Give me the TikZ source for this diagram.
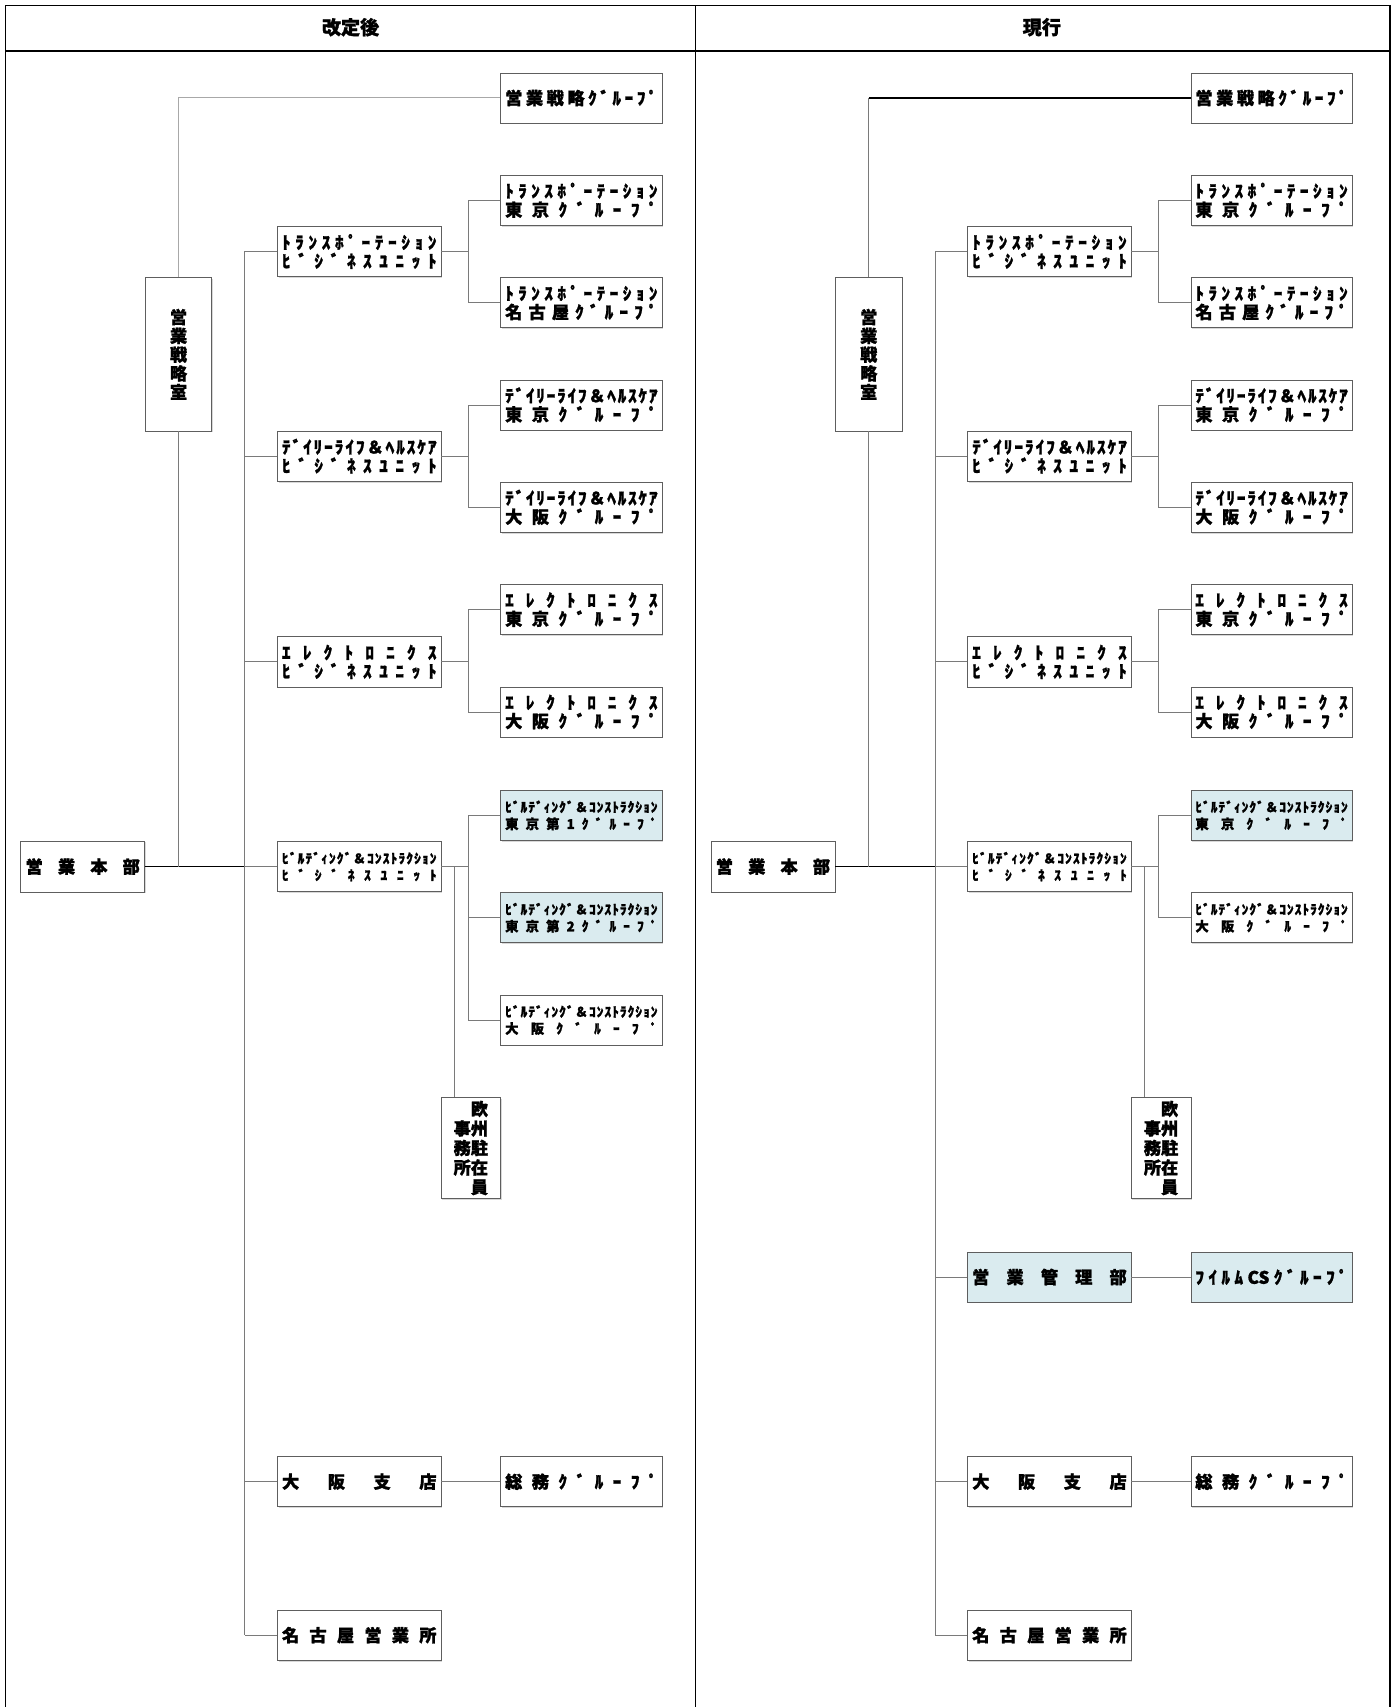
\documentclass[tikz,border=0pt]{standalone}
\usepackage{fontspec}
\setmainfont{Noto Sans CJK JP}[BoldFeatures={FakeBold=1.3}]
\usetikzlibrary{shadows}
\definecolor{edge}{HTML}{5E5E5E}
\definecolor{wire}{HTML}{7A7A7A}
\definecolor{faint}{HTML}{A8A8A8}
\definecolor{pale}{HTML}{DAEBEF}

% spread the letters of one line over the whole text width
\makeatletter
\def\spr#1{\hbox to\linewidth{\spr@a#1\@nil}\par}
\def\spr@a#1#2\@nil{#1\if\relax\detokenize{#2}\relax\else\hfill\spr@a#2\@nil\fi}
\makeatother

\begin{document}
\begin{tikzpicture}[x=0.02cm,y=-0.02cm,
  font=\bfseries\fontsize{9}{9.8}\selectfont,
  box/.style={draw=edge,fill=white,inner xsep=0.08cm,inner ysep=0pt,
    minimum height=0.92cm,
    drop shadow={shadow xshift=0.7pt,shadow yshift=-0.7pt,fill=black!30}},
  unit/.style={box,minimum width=3cm,text width=2.84cm},
  grp/.style={box,minimum width=2.96cm,text width=2.8cm},
  hqbox/.style={box,minimum width=2.28cm,minimum height=0.94cm,text width=2.1cm},
  hilite/.style={fill=pale},
  small/.style={font=\bfseries\fontsize{7}{8.8}\selectfont},
  link/.style={wire,line width=0.5pt},
  main/.style={black,line width=0.8pt}]
  \useasboundingbox (0,0) rectangle (1282,1568);

  % frame and headers
  \draw[line width=0.8pt] (5,1568) -- (5,5) -- (1277,5) -- (1277,1568);
  \draw[line width=0.8pt] (5,47) -- (1277,47);
  \draw[line width=0.8pt] (639,5) -- (639,1568);
  \node[font=\bfseries\fontsize{10}{12}\selectfont] (hdrL) at (322,25) {改定後};
  \node[font=\bfseries\fontsize{10}{12}\selectfont] (hdrR) at (957,25) {現行};

  % parts both charts share
  \foreach \p/\dx in {L/0,R/634}{
    \begin{scope}[shift={(\dx,0)}]
      \coordinate (\p trk) at (225,0);
      \coordinate (\p fk) at (430,0);
      \node[grp] (\p sg) at (534,90) {\spr{営業戦略ｸﾞﾙｰﾌﾟ}};
      \node[box,minimum width=1.22cm,minimum height=2.82cm,align=center]
        (\p sr) at (164,325.5) {営\\業\\戦\\略\\室};
      \node[hqbox] (\p hq) at (76,796) {\spr{営業本部}};

      \node[unit] (\p trU) at (330,231) {\spr{ﾄﾗﾝｽﾎﾟｰﾃｰｼｮﾝ}\spr{ﾋﾞｼﾞﾈｽﾕﾆｯﾄ}};
      \node[grp] (\p trT) at (534,184) {\spr{ﾄﾗﾝｽﾎﾟｰﾃｰｼｮﾝ}\spr{東京ｸﾞﾙｰﾌﾟ}};
      \node[grp] (\p trN) at (534,278) {\spr{ﾄﾗﾝｽﾎﾟｰﾃｰｼｮﾝ}\spr{名古屋ｸﾞﾙｰﾌﾟ}};

      \node[unit] (\p daU) at (330,419) {\spr{ﾃﾞｲﾘｰﾗｲﾌ＆ﾍﾙｽｹｱ}\spr{ﾋﾞｼﾞﾈｽﾕﾆｯﾄ}};
      \node[grp] (\p daT) at (534,372) {\spr{ﾃﾞｲﾘｰﾗｲﾌ＆ﾍﾙｽｹｱ}\spr{東京ｸﾞﾙｰﾌﾟ}};
      \node[grp] (\p daO) at (534,466) {\spr{ﾃﾞｲﾘｰﾗｲﾌ＆ﾍﾙｽｹｱ}\spr{大阪ｸﾞﾙｰﾌﾟ}};

      \node[unit] (\p elU) at (330,608) {\spr{ｴﾚｸﾄﾛﾆｸｽ}\spr{ﾋﾞｼﾞﾈｽﾕﾆｯﾄ}};
      \node[grp] (\p elT) at (534,560) {\spr{ｴﾚｸﾄﾛﾆｸｽ}\spr{東京ｸﾞﾙｰﾌﾟ}};
      \node[grp] (\p elO) at (534,654) {\spr{ｴﾚｸﾄﾛﾆｸｽ}\spr{大阪ｸﾞﾙｰﾌﾟ}};

      \node[unit,small] (\p buU) at (330,796)
        {\spr{ﾋﾞﾙﾃﾞｨﾝｸﾞ＆ｺﾝｽﾄﾗｸｼｮﾝ}\spr{ﾋﾞｼﾞﾈｽﾕﾆｯﾄ}};
      \node[box,minimum width=1.1cm,minimum height=1.86cm,align=right,
        font=\bfseries\fontsize{9}{10.2}\selectfont]
        (\p eu) at (432.5,1054.5) {欧\\事州\\務駐\\所在\\員};

      \node[unit] (\p os) at (330,1361) {\spr{大阪支店}};
      \node[grp] (\p ga) at (534,1361) {\spr{総務ｸﾞﾙｰﾌﾟ}};
      \node[unit] (\p ng) at (330,1502) {\spr{名古屋営業所}};

      \draw[main] (\p hq.east) -- (\p buU.west);
      \draw[link] (\p sr.south) -- (\p sr.south |- \p hq.east);
      \draw[link] (\p trU.west -| \p trk) -- (\p ng.west -| \p trk);
      \foreach \u in {trU,daU,elU,buU,os,ng}
        \draw[link] (\p\u.west) -- (\p\u.west -| \p trk);
      \foreach \u/\a/\b in {trU/trT/trN,daU/daT/daO,elU/elT/elO}{
        \draw[link] (\p\u.east) -- (\p\u.east -| \p fk);
        \draw[link] (\p\a.west) -- (\p\a.west -| \p fk)
          -- (\p\b.west -| \p fk) -- (\p\b.west);
      }
      \draw[link] (\p buU.east) -- (\p buU.east -| \p fk);
      \draw[link] (\p buU.east) -| ([xshift=0.25cm]\p eu.north west);
      \draw[link] (\p os.east) -- (\p ga.west);
    \end{scope}
  }

  % after the change
  \draw[faint,line width=0.5pt] (Lsr.north) -- (Lsr.north |- Lsg.west) -- (Lsg.west);
  \node[grp,small,hilite] (Lbu1) at (534,749)
    {\spr{ﾋﾞﾙﾃﾞｨﾝｸﾞ＆ｺﾝｽﾄﾗｸｼｮﾝ}\spr{東京第1ｸﾞﾙｰﾌﾟ}};
  \node[grp,small,hilite] (Lbu2) at (534,843)
    {\spr{ﾋﾞﾙﾃﾞｨﾝｸﾞ＆ｺﾝｽﾄﾗｸｼｮﾝ}\spr{東京第2ｸﾞﾙｰﾌﾟ}};
  \node[grp,small] (LbuO) at (534,937)
    {\spr{ﾋﾞﾙﾃﾞｨﾝｸﾞ＆ｺﾝｽﾄﾗｸｼｮﾝ}\spr{大阪ｸﾞﾙｰﾌﾟ}};
  \draw[link] (Lbu1.west) -- (Lbu1.west -| Lfk) -- (LbuO.west -| Lfk) -- (LbuO.west);
  \draw[link] (Lbu2.west) -- (Lbu2.west -| Lfk);

  % current
  \draw[wire,line width=0.5pt] (Rsr.north) -- (Rsr.north |- Rsg.west);
  \draw[black,line width=0.6pt] (Rsr.north |- Rsg.west) -- (Rsg.west);
  \node[grp,small,hilite] (RbuT) at (1168,749)
    {\spr{ﾋﾞﾙﾃﾞｨﾝｸﾞ＆ｺﾝｽﾄﾗｸｼｮﾝ}\spr{東京ｸﾞﾙｰﾌﾟ}};
  \node[grp,small] (RbuO) at (1168,843)
    {\spr{ﾋﾞﾙﾃﾞｨﾝｸﾞ＆ｺﾝｽﾄﾗｸｼｮﾝ}\spr{大阪ｸﾞﾙｰﾌﾟ}};
  \draw[link] (RbuT.west) -- (RbuT.west -| Rfk) -- (RbuO.west -| Rfk) -- (RbuO.west);
  \node[unit,hilite] (Rmg) at (964,1173) {\spr{営業管理部}};
  \node[grp,hilite] (Rfc) at (1168,1173) {\spr{ﾌｲﾙﾑ{CS}ｸﾞﾙｰﾌﾟ}};
  \draw[link] (Rmg.west) -- (Rmg.west -| Rtrk);
  \draw[link] (Rmg.east) -- (Rfc.west);
\end{tikzpicture}
\end{document}
